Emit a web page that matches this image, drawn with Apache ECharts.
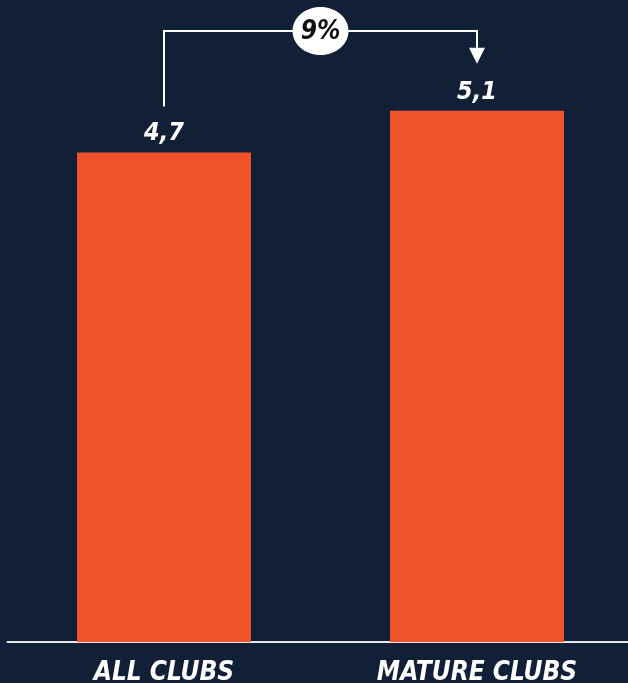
<!DOCTYPE html>
<html lang="en">
<head>
    <meta charset="UTF-8">
    <title>Clubs</title>
    <script src="https://cdn.jsdelivr.net/npm/echarts@6/dist/echarts.min.js"></script>
    <style>
        html, body {
            margin: 0;
            padding: 0;
            background: #112036;
            overflow: hidden;
        }
    </style>
</head>
<body>
<div style="position: relative;width: 628px;height: 683px;overflow: hidden">
    <div id="main" style="position: absolute;left: 0;top: 0;width: 634px;height: 683px"></div>
</div>
<script>
    var categories = ['ALL CLUBS', 'MATURE CLUBS']
    var values = [4.7, 5.1]
    var growthLabel = '9%'

    var font = "'DejaVu Sans Condensed', 'Liberation Sans Narrow', sans-serif"
    var orange = '#F05229'

    var myChart = echarts.init(document.getElementById('main'))
    myChart.setOption({
        backgroundColor: '#112036',
        animation: false,
        // chart is a bit wider than the clipping box so the axis runs off the right edge
        grid: {left: 7.5, right: 0.5, top: 17, bottom: 41, outerBoundsMode: 'none'},
        xAxis: {
            type: 'category',
            data: categories,
            axisLine: {lineStyle: {color: '#e6e6e6', width: 2}},
            axisTick: {show: false},
            axisLabel: {
                color: '#ffffff',
                fontFamily: font,
                fontWeight: 'bold',
                fontStyle: 'italic',
                fontSize: 26,
                margin: 18
            }
        },
        yAxis: {
            type: 'value',
            min: 0,
            max: 6,
            show: false,
            splitLine: {show: false}
        },
        series: [{
            type: 'bar',
            data: values,
            barWidth: 174,
            itemStyle: {color: orange},
            label: {
                show: true,
                position: 'top',
                distance: 6,
                color: '#ffffff',
                fontFamily: font,
                fontWeight: 'bold',
                fontStyle: 'italic',
                fontSize: 25,
                formatter: function (p) {
                    return String(p.value).replace('.', ',')
                }
            }
        }]
    })

    // bracket from first bar to second, placed from the axis scales
    var p0 = myChart.convertToPixel({gridIndex: 0}, [0, values[0]])
    var p1 = myChart.convertToPixel({gridIndex: 0}, [1, values[1]])
    var topY = 31
    var midX = (p0[0] + p1[0]) / 2
    myChart.setOption({
        graphic: [
            {
                type: 'polyline',
                shape: {points: [[p0[0], p0[1] - 46], [p0[0], topY], [p1[0], topY], [p1[0], p1[1] - 63]]},
                style: {stroke: '#ffffff', lineWidth: 2, fill: null}
            },
            {
                type: 'polygon',
                shape: {points: [[p1[0] - 8, p1[1] - 63], [p1[0] + 8, p1[1] - 63], [p1[0], p1[1] - 47]]},
                style: {fill: '#ffffff'}
            },
            {
                type: 'ellipse',
                shape: {cx: midX, cy: topY, rx: 28, ry: 24},
                style: {fill: '#ffffff'}
            },
            {
                type: 'text',
                x: midX,
                y: topY + 1,
                style: {
                    text: growthLabel,
                    fill: '#111111',
                    font: "italic bold 26px " + font,
                    align: 'center',
                    verticalAlign: 'middle'
                }
            }
        ]
    })
</script>
</body>
</html>
